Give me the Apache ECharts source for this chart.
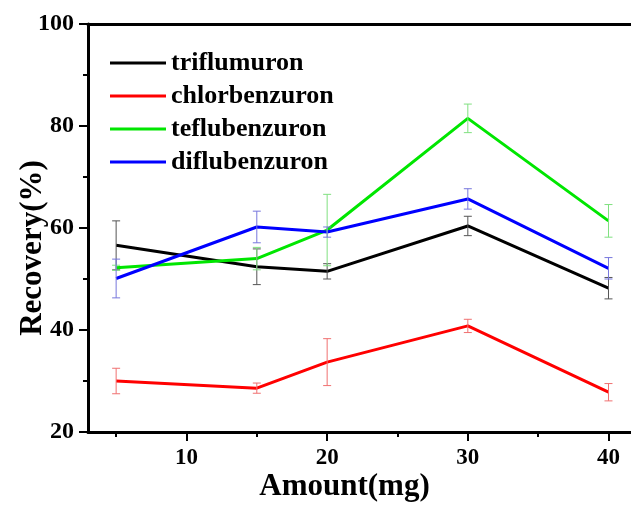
<!DOCTYPE html>
<html>
<head>
<meta charset="utf-8">
<script src="https://cdn.jsdelivr.net/npm/echarts@6/dist/echarts.min.js"></script>
<style>
  html, body { margin: 0; padding: 0; background: #fff; }
  #main { width: 631px; height: 508px; }
</style>
</head>
<body>
<div id="main"></div>
<script>
// amounts (mg) and recovery (%)
var amounts = [5, 15, 20, 30, 40];
var names = ['triflumuron', 'chlorbenzuron', 'teflubenzuron', 'diflubenzuron'];
var triflumuron = [56.6, 52.4, 51.5, 60.4, 48.2];
var triflumuronErr = [4.8, 3.5, 1.5, 1.9, 2.1];
var chlorbenzuron = [30.0, 28.6, 33.7, 40.8, 27.8];
var chlorbenzuronErr = [2.5, 1.0, 4.6, 1.3, 1.7];
var teflubenzuron = [52.2, 54.0, 59.6, 81.5, 61.4];
var teflubenzuronErr = [0.5, 2.2, 7.0, 2.8, 3.2];
var diflubenzuron = [50.1, 60.2, 59.2, 65.7, 52.1];
var diflubenzuronErr = [3.8, 3.1, 1.0, 2.0, 2.1];
var xMajorTicks = [10, 20, 30, 40];
var xMinorTicks = [5, 15, 25, 35];

var lineColors = ['#000000', '#ff0000', '#00e600', '#0000ff'];
var barColors = ['#555555', '#f07070', '#80e080', '#7777dd'];
var values = [triflumuron, chlorbenzuron, teflubenzuron, diflubenzuron];
var errs = [triflumuronErr, chlorbenzuronErr, teflubenzuronErr, diflubenzuronErr];

var font = 'Liberation Serif';

function pairs(ys) {
  return amounts.map(function (x, i) { return [x, ys[i]]; });
}
function ranges(ys, es) {
  return amounts.map(function (x, i) { return [x, ys[i] - es[i], ys[i] + es[i]]; });
}
function errRenderer(color) {
  return function (params, api) {
    var top = api.coord([api.value(0), api.value(2)]);
    var bot = api.coord([api.value(0), api.value(1)]);
    var w = 4;
    var st = { stroke: color, lineWidth: 1 };
    return {
      type: 'group',
      children: [
        { type: 'line', shape: { x1: top[0], y1: top[1], x2: bot[0], y2: bot[1] }, style: st },
        { type: 'line', shape: { x1: top[0] - w, y1: top[1], x2: top[0] + w, y2: top[1] }, style: st },
        { type: 'line', shape: { x1: bot[0] - w, y1: bot[1], x2: bot[0] + w, y2: bot[1] }, style: st }
      ]
    };
  };
}

var series = [];
names.forEach(function (n, i) {
  series.push({
    name: n,
    type: 'line',
    data: pairs(values[i]),
    symbol: 'none',
    lineStyle: { color: lineColors[i], width: 3 },
    itemStyle: { color: lineColors[i] },
    z: 3
  });
});
names.forEach(function (n, i) {
  series.push({
    name: n + ' err',
    type: 'custom',
    data: ranges(values[i], errs[i]),
    renderItem: errRenderer(barColors[i]),
    z: 4
  });
});

var chart = echarts.init(document.getElementById('main'));
chart.setOption({
  animation: false,
  backgroundColor: '#fff',
  grid: { left: 88, top: 24, right: 0, bottom: 76, outerBoundsMode: 'none', containLabel: false },
  legend: {
    data: names,
    orient: 'vertical',
    left: 105,
    top: 45,
    icon: 'rect',
    itemWidth: 56,
    itemHeight: 3,
    itemGap: 7,
    textStyle: { fontFamily: font, fontWeight: 'bold', fontSize: 26, lineHeight: 26, color: '#000' }
  },
  xAxis: [
    {
      type: 'value',
      position: 'bottom',
      min: 3,
      max: 41.6,
      name: 'Amount(mg)',
      nameLocation: 'middle',
      nameGap: 39,
      nameMoveOverlap: false,
      nameTextStyle: { fontFamily: font, fontWeight: 'bold', fontSize: 31, color: '#000', padding: [0, 30, 0, 0] },
      axisLine: { show: true, lineStyle: { color: '#000', width: 3 } },
      axisTick: { show: true, length: 9, customValues: xMajorTicks, lineStyle: { color: '#000', width: 2 } },
      axisLabel: { customValues: xMajorTicks, margin: 15, fontFamily: font, fontWeight: 'bold', fontSize: 23, color: '#000' },
      splitLine: { show: false }
    },
    {
      type: 'value',
      position: 'top',
      min: 3,
      max: 41.6,
      axisLine: { show: true, lineStyle: { color: '#000', width: 3 } },
      axisTick: { show: false },
      axisLabel: { show: false },
      splitLine: { show: false }
    },
    {
      type: 'value',
      position: 'bottom',
      min: 3,
      max: 41.6,
      axisLine: { show: false },
      axisTick: { show: true, length: 5, customValues: xMinorTicks, lineStyle: { color: '#000', width: 2 } },
      axisLabel: { show: false },
      splitLine: { show: false }
    }
  ],
  yAxis: {
    type: 'value',
    min: 20,
    max: 100,
    interval: 20,
    name: 'Recovery(%)',
    nameLocation: 'middle',
    nameGap: 40,
    nameMoveOverlap: false,
    nameTextStyle: { fontFamily: font, fontWeight: 'bold', fontSize: 31, color: '#000', padding: [0, 40, 0, 0] },
    axisLine: { show: true, lineStyle: { color: '#000', width: 3 } },
    axisTick: { show: true, length: 9, lineStyle: { color: '#000', width: 2 } },
    minorTick: { show: true, splitNumber: 2, length: 5, lineStyle: { color: '#000', width: 2 } },
    axisLabel: { margin: 14, fontFamily: font, fontWeight: 'bold', fontSize: 24, color: '#000' },
    splitLine: { show: false }
  },
  series: series
});
</script>
</body>
</html>
